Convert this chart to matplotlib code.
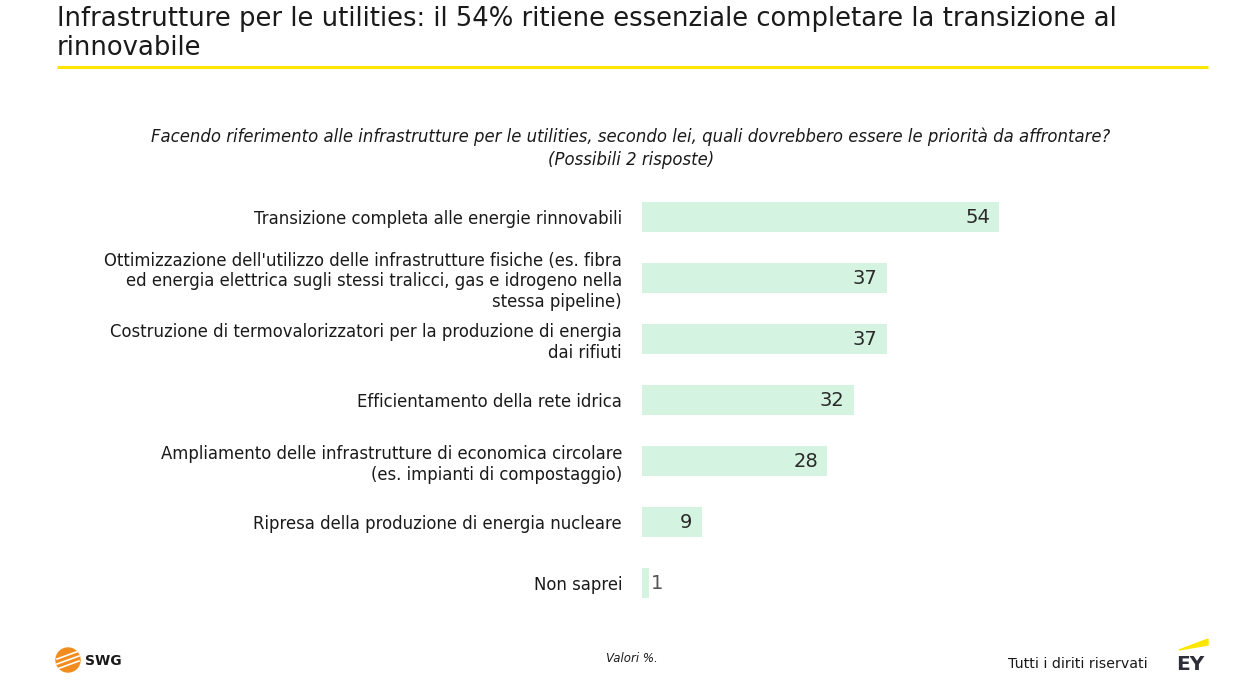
import matplotlib
matplotlib.use("Agg")
import matplotlib.pyplot as plt
from matplotlib.patches import Circle, Polygon
import numpy as np

categories = [
    "Transizione completa alle energie rinnovabili",
    "Ottimizzazione dell'utilizzo delle infrastrutture fisiche (es. fibra\ned energia elettrica sugli stessi tralicci, gas e idrogeno nella\nstessa pipeline)",
    "Costruzione di termovalorizzatori per la produzione di energia\ndai rifiuti",
    "Efficientamento della rete idrica",
    "Ampliamento delle infrastrutture di economica circolare\n(es. impianti di compostaggio)",
    "Ripresa della produzione di energia nucleare",
    "Non saprei",
]
values = [54, 37, 37, 32, 28, 9, 1]

title = "Infrastrutture per le utilities: il 54% ritiene essenziale completare la transizione al\nrinnovabile"
subtitle = "Facendo riferimento alle infrastrutture per le utilities, secondo lei, quali dovrebbero essere le priorità da affrontare?\n(Possibili 2 risposte)"

W, H = 1260, 689
fig = plt.figure(figsize=(W / 100, H / 100), dpi=100)
plt.rcParams['font.family'] = ['DejaVu Sans']

# overlay axes in pixel coordinates
ov = fig.add_axes([0, 0, 1, 1])
ov.set_xlim(0, W)
ov.set_ylim(H, 0)
ov.axis("off")

ov.text(57, 6, title, fontsize=18.6, color="#1a1a1a", ha="left", va="top",
        linespacing=1.17)
ov.plot([57, 1208], [67, 67], color="#FFE600", lw=2.2, solid_capstyle="butt")
ov.text(631, 148, subtitle, fontsize=11.9, style="italic", color="#1a1a1a",
        ha="center", va="center", linespacing=1.35)

# footer
ov.text(632, 659, "Valori %.", fontsize=8.5, style="italic", color="#1a1a1a",
        ha="center", va="center")
ov.text(1148, 664, "Tutti i diriti riservati", fontsize=10.2, color="#1a1a1a",
        ha="right", va="center")
# SWG logo
ov.add_patch(Circle((68, 660), 12, color="#F28C1E", zorder=3))
for dy in (-6, -1, 4):
    ov.plot([57, 79], [660 + dy + 5, 660 + dy - 3], color="white", lw=1.2, zorder=4)
ov.text(85, 661, "SWG", fontsize=10, fontweight="bold", color="#1a1a1a",
        ha="left", va="center")
# EY logo
ov.add_patch(Polygon([(1179, 650), (1208, 639), (1208, 645)], closed=True,
                     color="#FFE600"))
ov.text(1190, 665, "EY", fontsize=14.5, fontweight="bold", color="#2e2e38",
        ha="center", va="center")

# main bar axes
px_per_unit = (999 - 642) / 54
left_px, right_px = 642, 1208
top_px, bot_px = 186.5, 613.5
ax = fig.add_axes([left_px / W, 1 - bot_px / H, (right_px - left_px) / W,
                   (bot_px - top_px) / H])
ax.set_xlim(0, (right_px - left_px) / px_per_unit)
y = np.arange(len(values))
ax.barh(y, values, height=0.49, color="#D4F3E0")
ax.set_ylim(len(values) - 0.5, -0.5)
ax.set_yticks(y)
ax.set_yticklabels(categories, fontsize=11.9, color="#1a1a1a", linespacing=1.2)
ax.tick_params(axis="y", length=0, pad=14.4)
ax.set_xticks([])
for s in ax.spines.values():
    s.set_visible(False)
ax.patch.set_alpha(0)

for yi, v in zip(y, values):
    if v >= 5:
        ax.text(v - 1.35, yi, str(v), ha="right", va="center",
                fontsize=14, color="#2a2a2a")
    else:
        ax.text(v + 0.4, yi, str(v), ha="left", va="center",
                fontsize=14, color="#555555")

fig.savefig("out.png", dpi=100)
